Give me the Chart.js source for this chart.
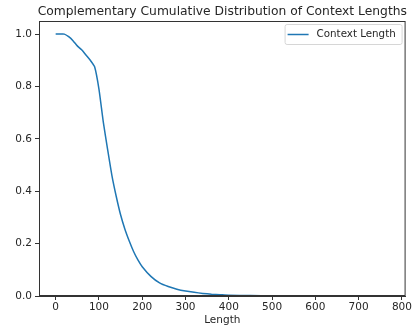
<!DOCTYPE html>
<html>
<head>
<meta charset="utf-8">
<script src="https://cdn.jsdelivr.net/npm/chart.js@4"></script>
<style>
  html, body { margin: 0; padding: 0; background: #fff; }
  #wrap { width: 413px; height: 330px; }
</style>
</head>
<body>
<div id="wrap"><canvas id="chart" width="413" height="330"></canvas></div>
<script>
// values
const lengths = [0, 10, 20, 30, 40, 50, 60, 70, 80, 90, 100, 110, 120, 130, 140, 150, 160, 170, 180, 190,
  200, 220, 240, 260, 280, 300, 320, 340, 360, 380, 400, 450, 500, 600, 700, 770];
const ccdf = [1.0, 1.0, 1.0, 0.99, 0.975, 0.955, 0.94, 0.92, 0.9, 0.875, 0.79, 0.665, 0.56, 0.46, 0.38, 0.31, 0.255, 0.21, 0.17, 0.138,
  0.112, 0.075, 0.05, 0.036, 0.026, 0.019, 0.014, 0.01, 0.007, 0.005, 0.003, 0.0015, 0.001, 0.0005, 0.0002, 0.0];
const xTicks = [0, 100, 200, 300, 400, 500, 600, 700, 800];
const yTicks = [0.0, 0.2, 0.4, 0.6, 0.8, 1.0];
const chartTitle = 'Complementary Cumulative Distribution of Context Lengths';

const FONT = 'DejaVu Sans';
const INK = '#262626';

// matplotlib-style title over the axes, frame and in-axes legend
const mplExtras = {
  id: 'mplExtras',
  afterDatasetsDraw(chart) {
    const { ctx, chartArea: a } = chart;
    ctx.save();
    ctx.fillStyle = INK;
    ctx.font = '12.3px "' + FONT + '"';
    ctx.textAlign = 'center';
    ctx.textBaseline = 'alphabetic';
    ctx.fillText(chartTitle, (a.left + a.right) / 2, a.top - 6);

    ctx.strokeStyle = '#333';
    ctx.lineWidth = 1;
    ctx.strokeRect(a.left + 0.5, a.top + 0.5, a.right - a.left - 1, a.bottom - a.top - 1);

    const bx = a.right - 121, by = a.top + 3, bw = 117, bh = 20;
    ctx.fillStyle = 'rgba(255,255,255,0.8)';
    ctx.strokeStyle = '#d6d6d6';
    ctx.beginPath();
    ctx.roundRect(bx + 0.5, by + 0.5, bw, bh, 2);
    ctx.fill();
    ctx.stroke();
    ctx.strokeStyle = '#1f77b4';
    ctx.lineWidth = 1.5;
    ctx.beginPath();
    ctx.moveTo(bx + 3, by + 10.5);
    ctx.lineTo(bx + 24, by + 10.5);
    ctx.stroke();
    ctx.fillStyle = INK;
    ctx.font = '10.3px "' + FONT + '"';
    ctx.textAlign = 'left';
    ctx.textBaseline = 'middle';
    ctx.fillText(chart.data.datasets[0].label, bx + 32, by + 10.5);
    ctx.restore();
  }
};

new Chart(document.getElementById('chart'), {
  type: 'scatter',
  data: {
    datasets: [{
      label: 'Context Length',
      data: lengths.map((x, i) => ({ x: x, y: ccdf[i] })),
      showLine: true,
      borderColor: '#1f77b4',
      borderWidth: 1.5,
      pointRadius: 0,
      tension: 0.2,
      fill: false
    }]
  },
  options: {
    responsive: false,
    animation: false,
    layout: { padding: { left: 0, right: 6.5, top: 21, bottom: 0 } },
    plugins: {
      legend: { display: false },
      tooltip: { enabled: false },
      title: { display: false }
    },
    scales: {
      x: {
        type: 'linear',
        min: -38.5,
        max: 808.5,
        afterBuildTicks: (s) => { s.ticks = xTicks.map(v => ({ value: v })); },
        afterFit: (s) => { s.height = 34; },
        ticks: { color: INK, font: { family: FONT, size: 10.5 }, padding: 1, maxRotation: 0 },
        grid: { drawOnChartArea: false, drawTicks: true, tickLength: 4, color: '#333' },
        border: { display: true, color: '#333' },
        title: {
          display: true,
          text: 'Length',
          color: INK,
          font: { family: FONT, size: 10.5 },
          padding: { top: 0, bottom: 3 }
        }
      },
      y: {
        type: 'linear',
        min: 0,
        max: 1.05,
        afterBuildTicks: (s) => { s.ticks = yTicks.map(v => ({ value: v })); },
        afterFit: (s) => { s.width = 39; },
        ticks: {
          color: INK,
          font: { family: FONT, size: 10.5 },
          padding: 3,
          callback: (v) => v.toFixed(1)
        },
        grid: { drawOnChartArea: false, drawTicks: true, tickLength: 4, color: '#333' },
        border: { display: true, color: '#333' }
      }
    }
  },
  plugins: [mplExtras]
});
</script>
</body>
</html>
